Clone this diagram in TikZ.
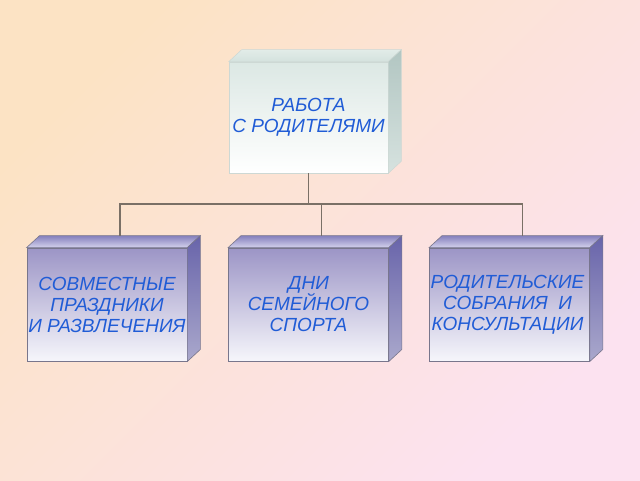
\documentclass[tikz,border=0pt]{standalone}
\usepackage{fontspec}
\setmainfont{Liberation Sans}
\usetikzlibrary{calc}
\definecolor{txtblue}{RGB}{32,92,214}
\definecolor{bgUL}{RGB}{252,227,196}
\definecolor{bgMID}{RGB}{252,230,216}
\definecolor{bgLR}{RGB}{252,226,240}
\definecolor{purTop}{RGB}{156,149,198}
\definecolor{purMid}{RGB}{174,168,212}
\definecolor{purBot}{RGB}{246,246,251}
\definecolor{purSideT}{RGB}{104,100,170}
\definecolor{purSideB}{RGB}{170,168,204}
\definecolor{purTopT}{RGB}{132,127,188}
\definecolor{purTopB}{RGB}{212,210,236}
\definecolor{purEdge}{RGB}{120,118,140}
\definecolor{grnTop}{RGB}{220,232,228}
\definecolor{grnMid}{RGB}{234,241,239}
\definecolor{grnBot}{RGB}{255,255,255}
\definecolor{grnSideT}{RGB}{178,198,194}
\definecolor{grnSideB}{RGB}{214,226,223}
\definecolor{grnTopT}{RGB}{226,236,232}
\definecolor{grnTopB}{RGB}{212,226,222}
\definecolor{grnEdge}{RGB}{205,216,212}
\definecolor{linkcol}{RGB}{122,112,102}
\tikzset{
  x=1pt, y=1pt,
  frontpur/.style={rectangle, inner sep=0pt, minimum width=160pt, minimum height=113pt,
    top color=purTop, middle color=purMid, bottom color=purBot, draw=purEdge, line width=0.8pt},
  frontgrn/.style={rectangle, inner sep=0pt, minimum width=159pt, minimum height=111pt,
    top color=grnTop, middle color=grnMid, bottom color=grnBot, draw=grnEdge, line width=0.6pt},
  sidepur/.style={top color=purSideT, bottom color=purSideB, draw=purEdge, line width=0.6pt},
  toppur/.style={top color=purTopT, bottom color=purTopB, draw=purEdge, line width=0.6pt},
  sidegrn/.style={top color=grnSideT, bottom color=grnSideB, draw=grnEdge, line width=0.5pt},
  topgrn/.style={top color=grnTopT, bottom color=grnTopB, draw=grnEdge, line width=0.5pt},
  boxtxt/.style={align=center, text=txtblue, inner sep=0pt,
    font=\fontsize{19}{21}\selectfont\itshape},
  link/.style={draw=linkcol, line width=1.6pt},
}
\newcommand{\cubefaces}[3]{% node, side style, top style
  \path[#3] (#1.north west) -- ++(13,12) -- ($(#1.north east)+(13,12)$) -- (#1.north east) -- cycle;
  \path[#2] (#1.north east) -- ++(13,12) -- ($(#1.south east)+(13,12)$) -- (#1.south east) -- cycle;
}
\begin{document}
\begin{tikzpicture}
\useasboundingbox (0,0) rectangle (640,480);
\shade[left color=bgUL, middle color=bgMID, right color=bgLR, shading angle=45] (0,0) rectangle (640,480);

% top box
\node[frontgrn] (top) at (308.5,362.5) {};
\cubefaces{top}{sidegrn}{topgrn}
\node[boxtxt] (toptxt) at (top) {РАБОТА\\С РОДИТЕЛЯМИ};

% bottom boxes
\node[frontpur] (b1) at (107,175.5) {};
\cubefaces{b1}{sidepur}{toppur}
\node[boxtxt] (b1txt) at (b1) {СОВМЕСТНЫЕ\\ПРАЗДНИКИ\\И РАЗВЛЕЧЕНИЯ};

\node[frontpur] (b2) at (308.5,175.5) {};
\cubefaces{b2}{sidepur}{toppur}
\node[boxtxt] (b2txt) at (b2) {ДНИ\\СЕМЕЙНОГО\\СПОРТА};

\node[frontpur] (b3) at (509.5,175.5) {};
\cubefaces{b3}{sidepur}{toppur}
\node[boxtxt] (b3txt) at ($(b3)+(-2,0)$) {РОДИТЕЛЬСКИЕ\\СОБРАНИЯ\ \ И\\КОНСУЛЬТАЦИИ};

% connectors
\coordinate (hub) at ($(top.south)+(0,-31)$);
\coordinate (e1) at ($(b1.north)+(13,12)$);
\coordinate (e2) at ($(b2.north)+(13,12)$);
\coordinate (e3) at ($(b3.north)+(13,12)$);
\draw[link] (top.south) -- (hub);
\draw[link] (e1) |- (hub) -| (e3);
\draw[link] (hub -| e2) -- (e2);
\end{tikzpicture}
\end{document}
